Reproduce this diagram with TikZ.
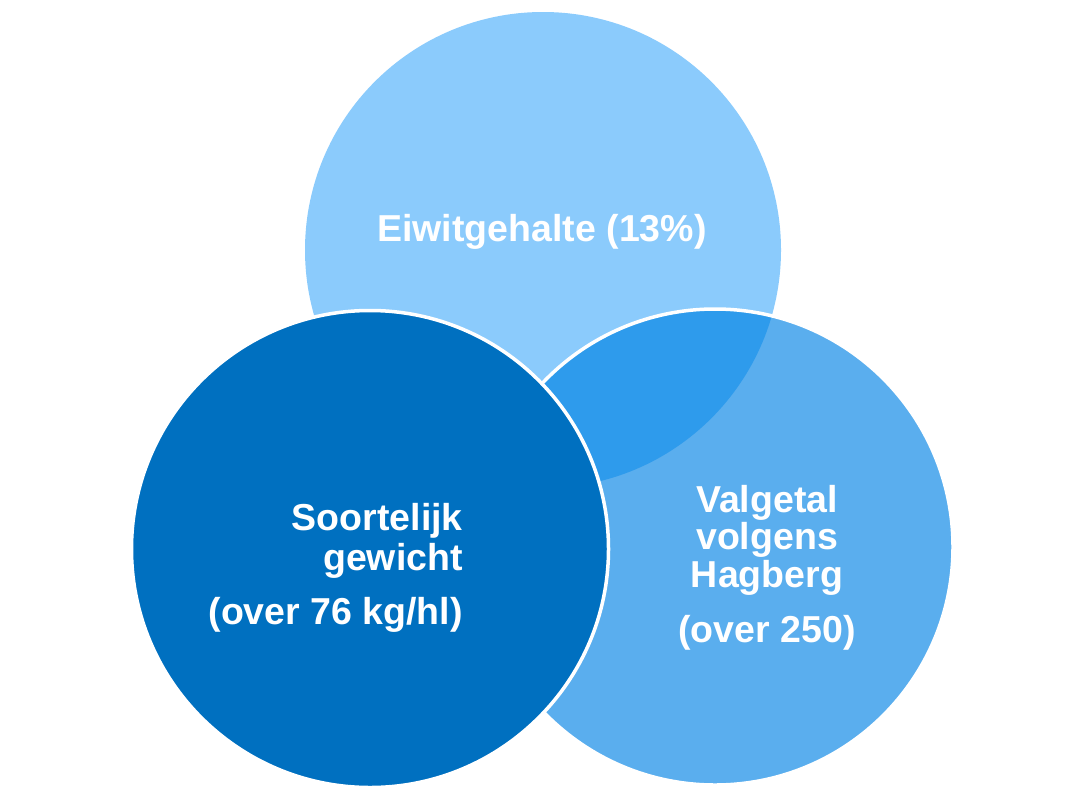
\documentclass[tikz,border=0pt]{standalone}
\usepackage{fontspec}
\setmainfont{Liberation Sans}
\definecolor{ctop}{HTML}{8BCBFC}
\definecolor{cright}{HTML}{5AAEEE}
\definecolor{clens}{HTML}{2E9BEC}
\definecolor{cleft}{HTML}{0070C0}
\tikzset{
  lbl/.style={text=white,font=\fontsize{37.5}{40}\selectfont\bfseries,inner sep=0pt},
  rim/.style={draw=white,line width=3.5pt}
}
\begin{document}
\begin{tikzpicture}[x=1pt,y=-1pt]
\useasboundingbox (0,0) rectangle (1086,798);
% top circle
\fill[ctop] (543,250) circle (238);
% right circle
\fill[cright] (715,547) circle (238);
% lens
\begin{scope}
  \clip (543,250) circle (238);
  \fill[clens] (715,547) circle (238);
\end{scope}
\draw[rim] (715,547) circle (238);
% left circle
\fill[cleft] (370,549) circle (238.5);
\draw[rim] (370,549) circle (238.5);
% texts
\node[lbl,anchor=base] (t1) at (542,241) {Eiwitgehalte (13\%)};
\node[lbl,anchor=base east] (l1) at (463,530) {Soortelijk};
\node[lbl,anchor=base east] (l2) at (463,570) {gewicht};
\node[lbl,anchor=base east] (l3) at (463,624) {(over 76 kg/hl)};
\node[lbl,anchor=base] (r1) at (767,512) {Valgetal};
\node[lbl,anchor=base] (r2) at (767,549) {volgens};
\node[lbl,anchor=base] (r3) at (767,587) {Hagberg};
\node[lbl,anchor=base] (r4) at (767,642) {(over 250)};
\end{tikzpicture}
\end{document}
